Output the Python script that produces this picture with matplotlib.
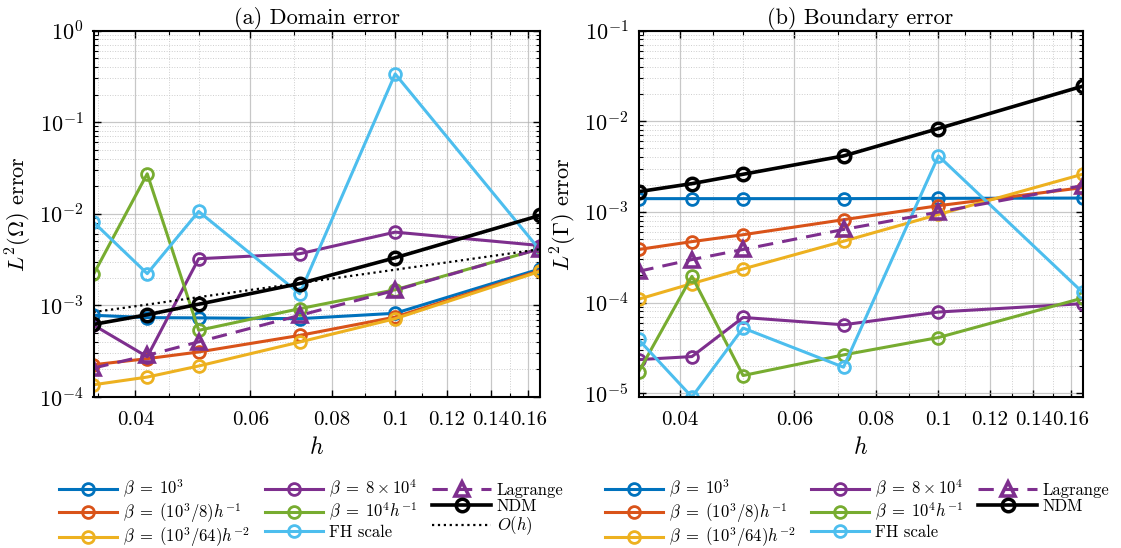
import matplotlib
matplotlib.use("Agg")
import matplotlib.pyplot as plt
from matplotlib.ticker import FixedLocator, FixedFormatter, LogLocator, NullFormatter

plt.rcParams['font.family'] = 'cmr10'
plt.rcParams['mathtext.fontset'] = 'cm'
plt.rcParams['axes.formatter.use_mathtext'] = True

# mesh sizes
h = [0.0345, 0.0417, 0.05, 0.0714, 0.1, 0.1667]

# (a) domain error
dom_b1 = [7.8e-4, 7.35e-4, 7.3e-4, 7.16e-4, 8.2e-4, 2.5e-3]
dom_b2 = [2.25e-4, 2.62e-4, 3.1e-4, 4.7e-4, 7.45e-4, 2.4e-3]
dom_b3 = [1.36e-4, 1.65e-4, 2.18e-4, 3.98e-4, 7.16e-4, 2.35e-3]
dom_b4 = [6.1e-4, 2.75e-4, 3.23e-3, 3.66e-3, 6.3e-3, 4.5e-3]
dom_b5 = [2.18e-3, 2.73e-2, 5.34e-4, 9.2e-4, 1.48e-3, 4.15e-3]
dom_fh = [8.1e-3, 2.22e-3, 1.06e-2, 1.34e-3, 0.336, 4.0e-3]
dom_lag = [2.07e-4, 2.85e-4, 4.0e-4, 7.78e-4, 1.46e-3, 4.15e-3]
dom_ndm = [6.2e-4, 7.9e-4, 1.03e-3, 1.73e-3, 3.31e-3, 9.6e-3]
dom_oh = [8.45e-4, 1.02e-3, 1.23e-3, 1.75e-3, 2.45e-3, 4.1e-3]

# (b) boundary error
bnd_b1 = [1.40e-3, 1.40e-3, 1.40e-3, 1.40e-3, 1.41e-3, 1.42e-3]
bnd_b2 = [3.85e-4, 4.7e-4, 5.6e-4, 8.2e-4, 1.17e-3, 1.85e-3]
bnd_b3 = [1.09e-4, 1.62e-4, 2.35e-4, 4.75e-4, 9.37e-4, 2.6e-3]
bnd_b4 = [2.35e-5, 2.54e-5, 6.86e-5, 5.69e-5, 7.87e-5, 9.73e-5]
bnd_b5 = [1.71e-5, 1.95e-4, 1.57e-5, 2.65e-5, 4.12e-5, 1.12e-4]
bnd_fh = [3.92e-5, 9.1e-6, 5.24e-5, 1.94e-5, 4.14e-3, 1.30e-4]
bnd_lag = [2.21e-4, 2.98e-4, 3.85e-4, 6.4e-4, 9.95e-4, 1.95e-3]
bnd_ndm = [1.67e-3, 2.05e-3, 2.6e-3, 4.14e-3, 8.3e-3, 2.43e-2]

labels = [r'$\beta\;=\;10^3$', r'$\beta\;=\;(10^3/8)h^{-1}$', r'$\beta\;=\;(10^3/64)h^{-2}$',
          r'$\beta\;=\;8\times 10^4$', r'$\beta\;=\;10^4h^{-1}$', 'FH scale',
          'Lagrange', 'NDM', r'$O(h)$']
colors = ['#0072BD', '#D95319', '#EDB120', '#7E2F8E', '#77AC30', '#4DBEEE']

xticks = [0.04, 0.06, 0.08, 0.1, 0.12, 0.14, 0.16]
xticklabels = ['0.04', '0.06', '0.08', '0.1', '0.12', '0.14', '0.16']

fig = plt.figure(figsize=(11.21, 5.48), dpi=100)
W, H = 1121, 548
ax1 = fig.add_axes([93.5 / W, 1 - 397 / H, 446.5 / W, 366.5 / H])
ax2 = fig.add_axes([638.5 / W, 1 - 397 / H, 444 / W, 366.5 / H])


def draw(ax, series, lag, ndm, oh=None):
    for y, c, lab in zip(series, colors, labels[:6]):
        ax.plot(h, y, '-o', color=c, lw=2.2, ms=8.5, mfc='none', mew=2, label=lab)
    ax.plot(h, lag, '--^', color='#7E2F8E', lw=2.2, ms=9.5, mfc='none', mew=2.6,
            dashes=(5, 3), label='Lagrange')
    ax.plot(h, ndm, '-o', color='k', lw=2.6, ms=9, mfc='none', mew=2.5, label='NDM')
    if oh is not None:
        ax.plot(h, oh, ':', color='k', lw=1.6, label=r'$O(h)$')
    ax.set_xscale('log')
    ax.set_yscale('log')
    ax.set_xlim(h[0], h[-1])
    ax.xaxis.set_major_locator(FixedLocator(xticks))
    ax.xaxis.set_major_formatter(FixedFormatter(xticklabels))
    ax.xaxis.set_minor_locator(LogLocator(base=10, subs=[0.35, 0.45, 0.5, 0.7, 0.9, 1.1, 1.3, 1.5]))
    ax.xaxis.set_minor_formatter(NullFormatter())
    ax.yaxis.set_major_locator(LogLocator(base=10, numticks=20))
    ax.yaxis.set_minor_locator(LogLocator(base=10, subs=range(2, 10), numticks=20))
    ax.yaxis.set_minor_formatter(NullFormatter())
    ax.grid(True, which='major', color='#b0b0b0', lw=0.9, alpha=0.7)
    ax.grid(True, which='minor', color='#c8c8c8', lw=0.7, ls=':', alpha=0.9)
    ax.set_axisbelow(True)
    ax.tick_params(which='both', direction='in', top=True, right=True)
    ax.tick_params(axis='x', labelsize=15, pad=10)
    ax.tick_params(axis='y', labelsize=16, pad=7)
    ax.tick_params(which='major', length=5, width=1.0)
    ax.tick_params(which='minor', length=3, width=0.8)
    for s in ax.spines.values():
        s.set_linewidth(1.5)
    ax.set_xlabel(r'$h$', fontsize=17, labelpad=6)


draw(ax1, [dom_b1, dom_b2, dom_b3, dom_b4, dom_b5, dom_fh], dom_lag, dom_ndm, dom_oh)
ax1.set_ylim(1e-4, 1e0)
ax1.set_title('(a) Domain error', fontsize=16, pad=0)
ax1.set_ylabel(r'$L^2(\Omega)$ error', fontsize=16, labelpad=4)

draw(ax2, [bnd_b1, bnd_b2, bnd_b3, bnd_b4, bnd_b5, bnd_fh], bnd_lag, bnd_ndm)
ax2.set_ylim(9.1e-6, 1e-1)
ax2.set_title('(b) Boundary error', fontsize=16, pad=0)
ax2.set_ylabel(r'$L^2(\Gamma)$ error', fontsize=16, labelpad=4)

for ax, lx in [(ax1, 59 / W), (ax2, 605 / W)]:
    ax.legend(loc='upper left', bbox_to_anchor=(lx, 1 - 478 / H), bbox_transform=fig.transFigure,
              ncol=3, frameon=False, fontsize=12, handlelength=3.5, labelspacing=0.05,
              columnspacing=0.9, handletextpad=0.35, borderpad=0, borderaxespad=0)

fig.savefig('out.png', dpi=100)
